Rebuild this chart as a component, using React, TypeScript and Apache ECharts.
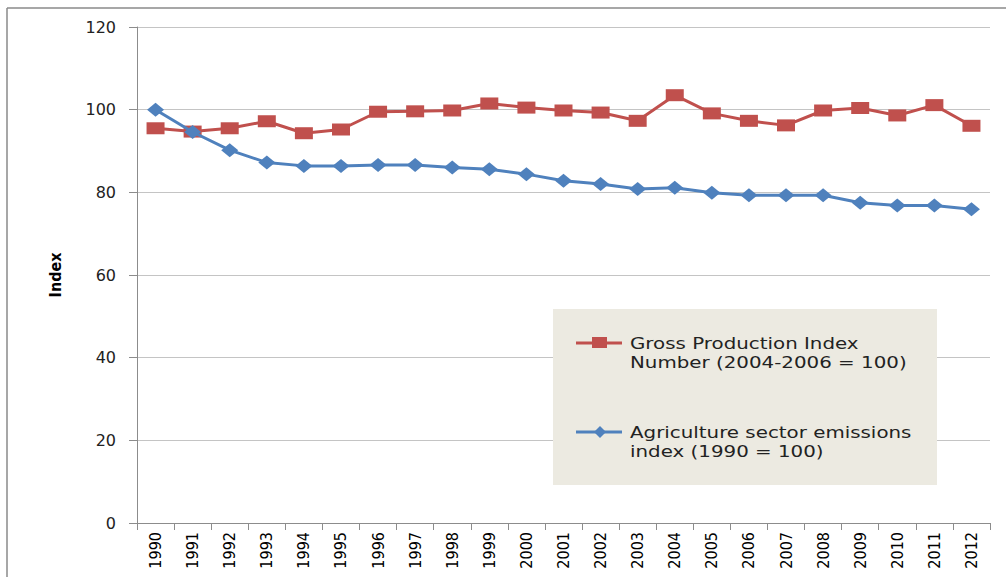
import React, { useEffect, useRef } from "react";
import * as echarts from "echarts";

const years = ["1990","1991","1992","1993","1994","1995","1996","1997","1998","1999","2000","2001","2002","2003","2004","2005","2006","2007","2008","2009","2010","2011","2012"];
const grossProduction = [95.5, 94.7, 95.5, 97.2, 94.3, 95.2, 99.5, 99.6, 99.8, 101.5, 100.5, 99.8, 99.3, 97.3, 103.5, 99.1, 97.3, 96.2, 99.8, 100.4, 98.6, 101.1, 96.1];
const emissions = [100, 94.6, 90.2, 87.2, 86.4, 86.4, 86.6, 86.6, 86.0, 85.6, 84.4, 82.8, 82.0, 80.8, 81.1, 79.9, 79.3, 79.3, 79.3, 77.5, 76.8, 76.8, 75.9];
const yTicks = [0, 20, 40, 60, 80, 100, 120];
const grossName = "Gross Production Index\nNumber (2004-2006 = 100)";
const emisName = "Agriculture sector emissions\nindex (1990 = 100)";

const RED = "#C0504D";
const BLUE = "#4F81BD";
const NARROW = "'DejaVu Sans Condensed', 'Liberation Sans Narrow', 'Liberation Sans', sans-serif";

export default function App() {
  const ref = useRef<HTMLDivElement>(null);
  useEffect(() => {
    const chart = echarts.init(ref.current!, null, { renderer: "svg" });
    chart.setOption({
      animation: false,
      backgroundColor: "#ffffff",
      grid: { left: 137, right: 16, top: 27, bottom: 54, containLabel: false },
      xAxis: {
        type: "category",
        data: years,
        boundaryGap: true,
        axisLine: { show: true, lineStyle: { color: "#8c8c8c", width: 1 } },
        axisTick: { show: true, length: 7, lineStyle: { color: "#8c8c8c" } },
        axisLabel: {
          rotate: 90,
          margin: 9,
          fontFamily: NARROW,
          fontSize: 16,
          color: "#000000",
          interval: 0,
        },
        splitLine: { show: false },
      },
      yAxis: {
        type: "value",
        min: yTicks[0],
        max: yTicks[yTicks.length - 1],
        interval: 20,
        name: "Index",
        nameLocation: "middle",
        nameGap: 74,
        nameRotate: 90,
        nameTextStyle: {
          fontFamily: NARROW,
          fontWeight: "bold",
          fontSize: 16,
          color: "#000000",
        },
        axisLine: { show: true, lineStyle: { color: "#8c8c8c", width: 1 } },
        axisTick: { show: true, length: 8, lineStyle: { color: "#8c8c8c" } },
        axisLabel: {
          margin: 21,
          fontFamily: "DejaVu Sans",
          fontSize: 16,
          color: "#222222",
        },
        splitLine: { show: true, lineStyle: { color: "#c4c4c4", width: 1.2 } },
      },
      series: [
        {
          name: grossName,
          type: "line",
          data: grossProduction,
          symbol: "rect",
          symbolSize: [18, 12],
          lineStyle: { color: RED, width: 3 },
          itemStyle: { color: RED },
          z: 3,
        },
        {
          name: emisName,
          type: "line",
          data: emissions,
          symbol: "diamond",
          symbolSize: [17, 14],
          lineStyle: { color: BLUE, width: 3 },
          itemStyle: { color: BLUE },
          z: 4,
        },
      ],
      graphic: [
        {
          type: "line",
          shape: { x1: 7, y1: 8, x2: 1006, y2: 8 },
          style: { stroke: "#8a8a8a", lineWidth: 1.5 },
        },
        {
          type: "line",
          shape: { x1: 7, y1: 8, x2: 7, y2: 577 },
          style: { stroke: "#8a8a8a", lineWidth: 1.5 },
        },
        {
          type: "rect",
          shape: { x: 553, y: 309, width: 384, height: 176 },
          style: { fill: "#ECEAE1" },
          z: 10,
        },
        {
          type: "line",
          shape: { x1: 576, y1: 343, x2: 622, y2: 343 },
          style: { stroke: RED, lineWidth: 3 },
          z: 11,
        },
        {
          type: "rect",
          shape: { x: 592, y: 337, width: 15, height: 11 },
          style: { fill: RED },
          z: 12,
        },
        {
          type: "text",
          x: 630,
          y: 334,
          scaleX: 1.24,
          style: {
            text: grossName,
            fontFamily: "DejaVu Sans",
            fontSize: 16,
            lineHeight: 19,
            fill: "#222222",
            verticalAlign: "top",
          },
          z: 12,
        },
        {
          type: "line",
          shape: { x1: 576, y1: 432, x2: 622, y2: 432 },
          style: { stroke: BLUE, lineWidth: 3 },
          z: 11,
        },
        {
          type: "polygon",
          shape: { points: [[600, 426], [606, 432], [600, 438], [594, 432]] },
          style: { fill: BLUE },
          z: 12,
        },
        {
          type: "text",
          x: 630,
          y: 423,
          scaleX: 1.24,
          style: {
            text: emisName,
            fontFamily: "DejaVu Sans",
            fontSize: 16,
            lineHeight: 19,
            fill: "#222222",
            verticalAlign: "top",
          },
          z: 12,
        },
      ],
    });
    return () => chart.dispose();
  }, []);
  return <div ref={ref} style={{ width: 1006, height: 577, position: "absolute", left: 0, top: 0 }} />;
}
